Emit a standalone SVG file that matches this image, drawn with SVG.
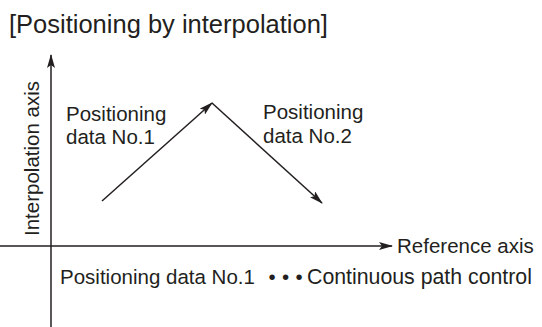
<svg xmlns="http://www.w3.org/2000/svg" width="542" height="327" viewBox="0 0 542 327">
<style>
text{font-family:"Liberation Sans",Arial,sans-serif;fill:#231f20;}
.t{font-size:20.5px;}
.ln{stroke:#231f20;stroke-width:1.5;fill:none;}
</style>
<defs>
<marker id="ah" viewBox="0 0 14 8" refX="13" refY="4" markerWidth="14" markerHeight="8" markerUnits="userSpaceOnUse" orient="auto">
<path d="M0,0 L14,4 L0,8 L3,4 Z" fill="#231f20"/>
</marker>
</defs>
<rect width="542" height="327" fill="#fff"/>
<g id="title"><text x="9" y="33" style="font-size:25.5px">[Positioning by interpolation]</text></g>
<g id="connectors">
<line class="ln" x1="51" y1="327" x2="51" y2="55" marker-end="url(#ah)"/>
<line class="ln" x1="0" y1="246" x2="392" y2="246" marker-end="url(#ah)"/>
<line class="ln" x1="102" y1="201" x2="212" y2="103" marker-end="url(#ah)"/>
<line class="ln" x1="212" y1="103" x2="322" y2="203" marker-end="url(#ah)"/>
</g>
<g id="y-axis-label"><text class="t" transform="translate(39,236) rotate(-90)">Interpolation axis</text></g>
<g id="x-axis-label"><text class="t" x="397" y="253">Reference axis</text></g>
<g id="label1"><text class="t" x="66" y="121">Positioning</text><text class="t" x="66" y="144">data No.1</text></g>
<g id="label2"><text class="t" x="263" y="119">Positioning</text><text class="t" x="263" y="143">data No.2</text></g>
<g id="note"><text class="t" x="60" y="284">Positioning data No.1 <tspan x="268.5">•</tspan><tspan x="282">•</tspan><tspan x="295.5">•</tspan><tspan x="307" style="font-size:21.3px">Continuous path control</tspan></text></g>
</svg>
